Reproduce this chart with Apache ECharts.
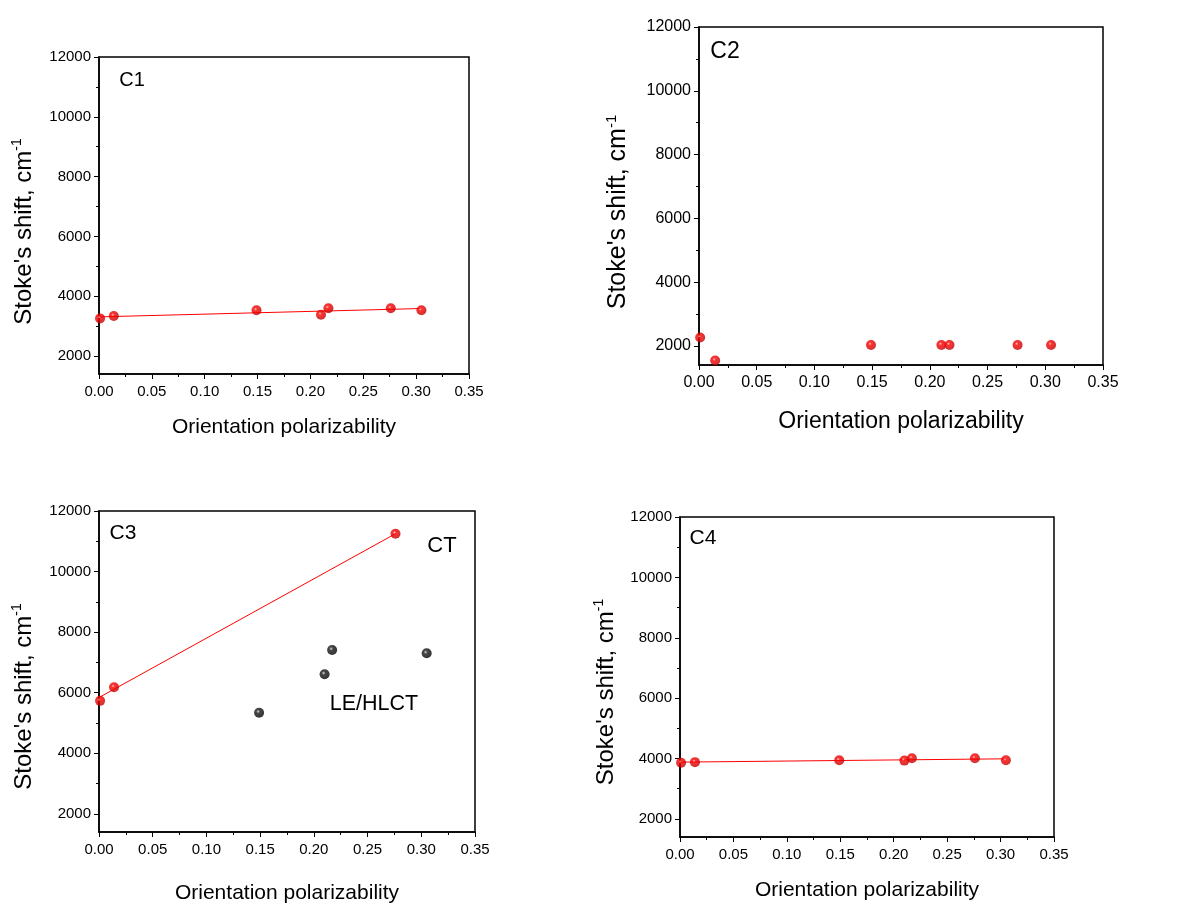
<!DOCTYPE html>
<html>
<head>
<meta charset="utf-8">
<script src="https://cdn.jsdelivr.net/npm/echarts@6/dist/echarts.min.js"></script>
<style>
html,body{margin:0;padding:0;background:#fff;}
#c{width:1185px;height:909px;}
</style>
</head>
<body>
<div id="c"></div>
<script>
// ---- data ----
const xPol = [0.001, 0.014, 0.149, 0.210, 0.217, 0.276, 0.305];
const xTicks = [0, 0.05, 0.10, 0.15, 0.20, 0.25, 0.30, 0.35];
const yTicks = [2000, 4000, 6000, 8000, 10000, 12000];
const yMinorTicks = [3000, 5000, 7000, 9000, 11000];

const c1Y = [3260, 3340, 3530, 3380, 3600, 3600, 3530];
const c1Fit = [[0, 3310], [0.305, 3590]];

const c2Y = [2260, 1540, 2030, 2030, 2030, 2030, 2030];

const c3CtX = [0.001, 0.014, 0.276];
const c3CtY = [5730, 6180, 11250];
const c3LeX = [0.149, 0.210, 0.217, 0.305];
const c3LeY = [5340, 6610, 7410, 7300];
const c3Fit = [[0, 5840], [0.276, 11250]];

const c4Y = [3860, 3880, 3940, 3930, 4010, 4010, 3940];
const c4Fit = [[0, 3880], [0.305, 3990]];

const panelLabels = ['C1', 'C2', 'C3', 'C4'];
const xTitle = 'Orientation polarizability';
const yTitleMain = "Stoke's shift, cm";
const yTitleSup = '-1';

// ---- layout ----
const FONT = 'Arial, "Liberation Sans", sans-serif';
const panels = [
  {left: 99,  top: 57,  width: 370, height: 317, tick: 15, xt: 21, yt: 24, nameGapX: 43, nameGapY: 61, yShift: 32},
  {left: 699, top: 27,  width: 404, height: 338, tick: 16, xt: 23, yt: 25, nameGapX: 45, nameGapY: 66, yShift: 32},
  {left: 99,  top: 511, width: 376, height: 321, tick: 15, xt: 21, yt: 24, nameGapX: 51, nameGapY: 61, yShift: 50},
  {left: 680, top: 517, width: 374, height: 320, tick: 15, xt: 21, yt: 24, nameGapX: 43, nameGapY: 60, yShift: 30}
];

const zip = (xs, ys) => xs.map((x, i) => [x, ys[i]]);

const redBall = {
  type: 'radial', x: 0.4, y: 0.38, r: 0.62,
  colorStops: [{offset: 0, color: '#ffc0c0'}, {offset: 0.25, color: '#ff0000'}, {offset: 1, color: '#c00000'}]
};
const blackBall = {
  type: 'radial', x: 0.4, y: 0.38, r: 0.62,
  colorStops: [{offset: 0, color: '#d0d0d0'}, {offset: 0.3, color: '#1a1a1a'}, {offset: 1, color: '#000'}]
};

const grids = [], xAxes = [], yAxes = [];
panels.forEach((p, i) => {
  grids.push({left: p.left, top: p.top, width: p.width, height: p.height,
    show: true, borderColor: '#000', borderWidth: 1.5, backgroundColor: 'transparent', containLabel: false});
  xAxes.push({
    type: 'value', gridIndex: i, min: 0, max: 0.35, interval: 0.05,
    axisLine: {show: true, onZero: false, lineStyle: {color: '#000', width: 1.5}},
    axisTick: {show: true, inside: false, length: 5, lineStyle: {color: '#000', width: 1}},
    minorTick: {show: true, splitNumber: 2, length: 3, lineStyle: {color: '#000', width: 1}},
    splitLine: {show: false},
    axisLabel: {show: true, margin: 10, color: '#000', fontFamily: FONT, fontSize: p.tick,
      formatter: v => v.toFixed(2), customValues: xTicks},
    name: xTitle, nameLocation: 'middle', nameGap: p.nameGapX,
    nameTextStyle: {color: '#000', fontFamily: FONT, fontSize: p.xt}
  });
  yAxes.push({
    type: 'value', gridIndex: i, min: 1400, max: 12000,
    axisLine: {show: true, onZero: false, lineStyle: {color: '#000', width: 1.5}},
    axisTick: {show: true, inside: false, length: 5, customValues: yTicks, lineStyle: {color: '#000', width: 1}},
    splitLine: {show: false},
    axisLabel: {show: true, margin: 8, color: '#000', fontFamily: FONT, fontSize: p.tick,
      customValues: yTicks, formatter: v => String(v)},
    name: '{m|' + yTitleMain + '}{s|' + yTitleSup + '}',
    nameLocation: 'middle', nameGap: p.nameGapY, nameRotate: 90,
    nameTextStyle: {
      padding: [0, p.yShift, 0, 0],
      rich: {
        m: {color: '#000', fontFamily: FONT, fontSize: p.yt, lineHeight: p.yt + 4},
        s: {color: '#000', fontFamily: FONT, fontSize: Math.round(p.yt * 0.6), verticalAlign: 'top', lineHeight: p.yt + 4}
      }
    }
  });
});
// minor y tick axes
panels.forEach((p, i) => {
  yAxes.push({
    type: 'value', gridIndex: i, min: 1400, max: 12000, position: 'left',
    axisLine: {show: false},
    axisTick: {show: true, inside: false, length: 3, customValues: yMinorTicks, lineStyle: {color: '#000', width: 1}},
    axisLabel: {show: false},
    splitLine: {show: false}
  });
});

const scatter = (idx, data, color) => ({
  type: 'scatter', xAxisIndex: idx, yAxisIndex: idx, data: data,
  symbol: 'circle', symbolSize: 10, clip: false,
  itemStyle: {color: color}, z: 5
});
const fit = (idx, data) => ({
  type: 'line', xAxisIndex: idx, yAxisIndex: idx, data: data,
  symbol: 'none', lineStyle: {color: '#ff0000', width: 1}, z: 3
});

const series = [
  fit(0, c1Fit), scatter(0, zip(xPol, c1Y), redBall),
  scatter(1, zip(xPol, c2Y), redBall),
  fit(2, c3Fit), scatter(2, zip(c3CtX, c3CtY), redBall), scatter(2, zip(c3LeX, c3LeY), blackBall),
  fit(3, c4Fit), scatter(3, zip(xPol, c4Y), redBall)
];

const txt = (s, x, y, size) => ({
  type: 'text', x: x, y: y, z: 10,
  style: {text: s, fill: '#000', font: size + 'px ' + FONT, textAlign: 'center', textVerticalAlign: 'middle'}
});

const chart = echarts.init(document.getElementById('c'), null, {renderer: 'canvas'});
chart.setOption({
  backgroundColor: '#fff',
  animation: false,
  grid: grids,
  xAxis: xAxes,
  yAxis: yAxes,
  series: series,
  graphic: [
    txt(panelLabels[0], 132, 80, 20),
    txt(panelLabels[1], 725, 52, 23),
    txt(panelLabels[2], 123, 533, 21),
    txt(panelLabels[3], 703, 538, 21),
    txt('CT', 442, 546, 22),
    txt('LE/HLCT', 374, 704, 21.5)
  ]
});
</script>
</body>
</html>
